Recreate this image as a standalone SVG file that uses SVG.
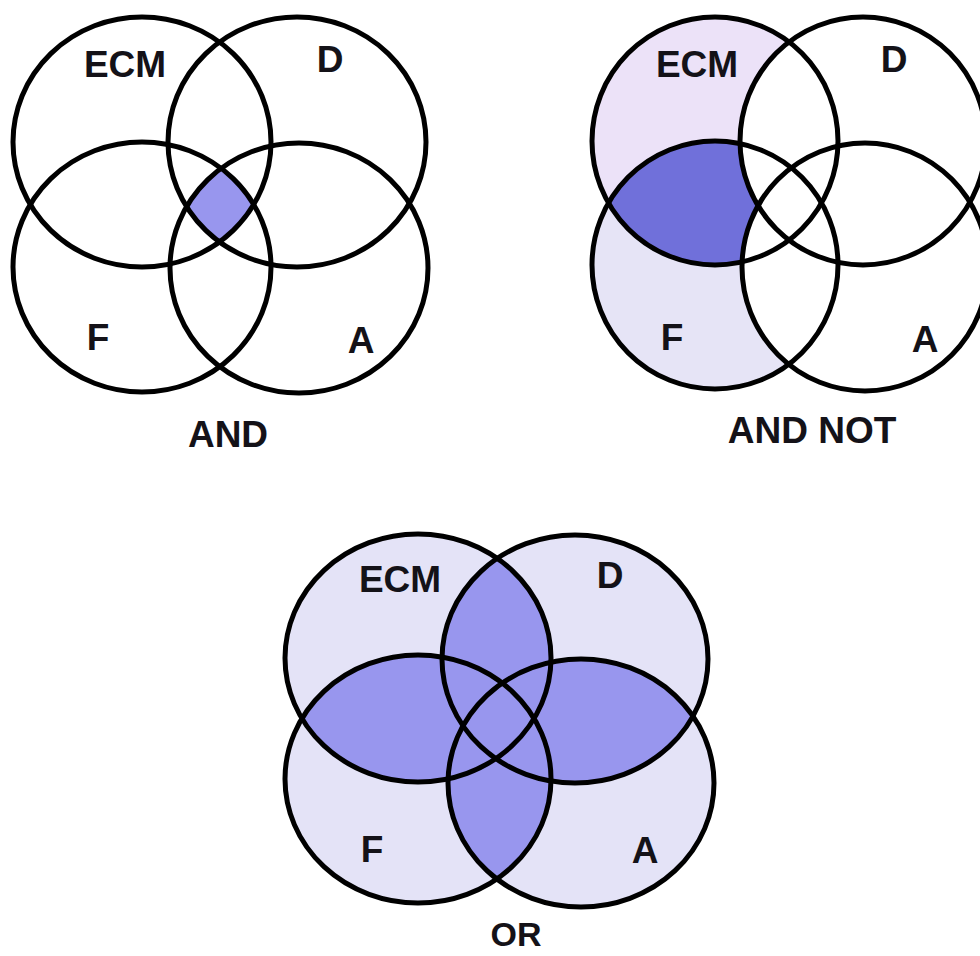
<svg xmlns="http://www.w3.org/2000/svg" width="980" height="956" viewBox="0 0 980 956">
<style>
.ring{fill:none;stroke:#000;stroke-width:5}
.lbl{font-family:"Liberation Sans",Arial,sans-serif;font-weight:bold;font-size:37px;fill:#141218;text-anchor:middle}
.dk1{fill:#9896ee}
.dk2{fill:#7070da}
.lt{fill:#e4e3f7}
.ltE{fill:#ece2f8}
.ltF{fill:#e6e4f6}
.wh{fill:#ffffff}
</style>
<defs>
<clipPath id="a-E"><ellipse cx="142" cy="142" rx="129" ry="125"/></clipPath>
<clipPath id="a-D"><ellipse cx="297" cy="142" rx="129" ry="125"/></clipPath>
<clipPath id="a-F"><ellipse cx="142" cy="267" rx="129" ry="125"/></clipPath>
<clipPath id="n-E"><ellipse cx="715" cy="141" rx="123" ry="124"/></clipPath>
<clipPath id="o-E"><ellipse cx="418" cy="658" rx="133" ry="124"/></clipPath>
<clipPath id="o-D"><ellipse cx="575" cy="659" rx="133" ry="124"/></clipPath>
<clipPath id="o-F"><ellipse cx="418" cy="779" rx="133" ry="124"/></clipPath>
<clipPath id="o-A"><ellipse cx="581" cy="783" rx="133" ry="124"/></clipPath>
</defs>
<rect width="980" height="956" fill="#ffffff"/>

<g id="diagram-and">
  <g clip-path="url(#a-E)"><g clip-path="url(#a-D)"><g clip-path="url(#a-F)">
    <ellipse class="dk1" cx="299" cy="268" rx="129" ry="125"/>
  </g></g></g>
  <g id="and-ECM"><ellipse class="ring" cx="142" cy="142" rx="129" ry="125"/><text class="lbl" x="125" y="77">ECM</text></g>
  <g id="and-D"><ellipse class="ring" cx="297" cy="142" rx="129" ry="125"/><text class="lbl" x="330" y="72">D</text></g>
  <g id="and-F"><ellipse class="ring" cx="142" cy="267" rx="129" ry="125"/><text class="lbl" x="98" y="350">F</text></g>
  <g id="and-A"><ellipse class="ring" cx="299" cy="268" rx="129" ry="125"/><text class="lbl" x="361" y="353">A</text></g>
  <text id="and-title" class="lbl" x="228" y="447">AND</text>
</g>

<g id="diagram-andnot">
  <ellipse class="ltE" cx="715" cy="141" rx="123" ry="124"/>
  <ellipse class="ltF" cx="715" cy="265" rx="123" ry="124"/>
  <g clip-path="url(#n-E)"><ellipse class="dk2" cx="715" cy="265" rx="123" ry="124"/></g>
  <ellipse class="wh" cx="863" cy="141" rx="123" ry="124"/>
  <ellipse class="wh" cx="865" cy="267" rx="123" ry="124"/>
  <g id="andnot-ECM"><ellipse class="ring" cx="715" cy="141" rx="123" ry="124"/><text class="lbl" x="697" y="77">ECM</text></g>
  <g id="andnot-D"><ellipse class="ring" cx="863" cy="141" rx="123" ry="124"/><text class="lbl" x="894" y="72">D</text></g>
  <g id="andnot-F"><ellipse class="ring" cx="715" cy="265" rx="123" ry="124"/><text class="lbl" x="672" y="350">F</text></g>
  <g id="andnot-A"><ellipse class="ring" cx="865" cy="267" rx="123" ry="124"/><text class="lbl" x="925" y="352">A</text></g>
  <text id="andnot-title" class="lbl" x="812" y="443">AND NOT</text>
</g>

<g id="diagram-or">
  <ellipse class="lt" cx="418" cy="658" rx="133" ry="124"/>
  <ellipse class="lt" cx="575" cy="659" rx="133" ry="124"/>
  <ellipse class="lt" cx="418" cy="779" rx="133" ry="124"/>
  <ellipse class="lt" cx="581" cy="783" rx="133" ry="124"/>
  <g clip-path="url(#o-E)">
    <ellipse class="dk1" cx="575" cy="659" rx="133" ry="124"/>
    <ellipse class="dk1" cx="418" cy="779" rx="133" ry="124"/>
    <ellipse class="dk1" cx="581" cy="783" rx="133" ry="124"/>
  </g>
  <g clip-path="url(#o-A)">
    <ellipse class="dk1" cx="575" cy="659" rx="133" ry="124"/>
    <ellipse class="dk1" cx="418" cy="779" rx="133" ry="124"/>
  </g>
  <g clip-path="url(#o-D)">
    <ellipse class="dk1" cx="418" cy="779" rx="133" ry="124"/>
  </g>
  <g id="or-ECM"><ellipse class="ring" cx="418" cy="658" rx="133" ry="124"/><text class="lbl" x="400" y="592">ECM</text></g>
  <g id="or-D"><ellipse class="ring" cx="575" cy="659" rx="133" ry="124"/><text class="lbl" x="610" y="588">D</text></g>
  <g id="or-F"><ellipse class="ring" cx="418" cy="779" rx="133" ry="124"/><text class="lbl" x="372" y="862">F</text></g>
  <g id="or-A"><ellipse class="ring" cx="581" cy="783" rx="133" ry="124"/><text class="lbl" x="645" y="863">A</text></g>
  <text id="or-title" class="lbl" x="516" y="946" style="font-size:34px">OR</text>
</g>
</svg>
